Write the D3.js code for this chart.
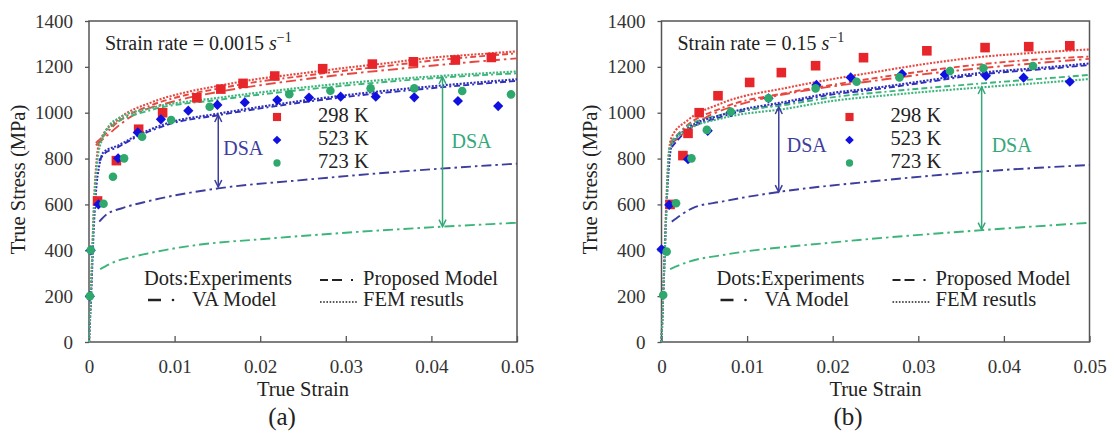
<!DOCTYPE html>
<html><head><meta charset="utf-8">
<script src="https://cdn.jsdelivr.net/npm/d3@7"></script>
<style>
body{margin:0;background:#fff;}
svg text{font-family:"Liberation Serif","Times New Roman",serif;fill:#222;}
</style></head>
<body>
<svg id="chart" width="1114" height="436"></svg>
<script>
// ---------- data ----------
const strainTicks = [0, 0.01, 0.02, 0.03, 0.04, 0.05];
const stressTicks = [0, 200, 400, 600, 800, 1000, 1200, 1400];
const tempLabels = ["298 K", "523 K", "723 K"];
const panelLabels = ["(a)", "(b)"];
const rateLabels = ["0.0015", "0.15"];

// Panel (a) experiments [strain, stress]
const expA298 = [[0.001,615],[0.0032,791],[0.0058,928],[0.0086,1000],[0.0126,1065],[0.0154,1103],[0.018,1128],[0.0217,1160],[0.0273,1192],[0.0331,1212],[0.0379,1222],[0.0428,1230],[0.047,1241]];
const expA523 = [[0.0001,200],[0.0002,400],[0.0011,600],[0.0034,801],[0.0057,914],[0.0084,971],[0.0116,1009],[0.015,1034],[0.0182,1045],[0.022,1055],[0.0257,1066],[0.0294,1070],[0.0335,1070],[0.038,1067],[0.0431,1051],[0.0478,1029]];
const expA723 = [[0.0001,200],[0.0002,400],[0.0017,603],[0.0028,721],[0.0041,801],[0.0062,895],[0.0096,968],[0.0141,1026],[0.0234,1081],[0.0282,1096],[0.0329,1106],[0.038,1106],[0.0436,1095],[0.0493,1080]];

// Panel (b) experiments
const expB298 = [[0.001,600],[0.0025,813],[0.0031,910],[0.0044,1000],[0.0066,1074],[0.0103,1132],[0.014,1175],[0.018,1205],[0.0236,1240],[0.031,1270],[0.0378,1284],[0.0429,1288],[0.0477,1292]];
const expB523 = [[0.0,404],[0.0009,598],[0.0031,797],[0.0054,921],[0.0081,1002],[0.0125,1063],[0.0181,1121],[0.0221,1154],[0.0281,1169],[0.0331,1167],[0.0379,1161],[0.0423,1153],[0.0477,1135]];
const expB723 = [[0.0002,205],[0.0006,394],[0.0017,605],[0.0035,801],[0.0053,925],[0.0081,1004],[0.0125,1063],[0.018,1106],[0.0228,1135],[0.0278,1154],[0.0337,1182],[0.0376,1194],[0.0434,1204]];

// Panel (a) model curves
const femA298 = [[0,0],[0.0003,300],[0.0006,620],[0.0009,800],[0.0013,880],[0.0034,970],[0.0073,1045],[0.0112,1088],[0.0151,1117],[0.019,1143],[0.0245,1170],[0.03,1196],[0.035,1217],[0.04,1240],[0.045,1254],[0.05,1268]];
const propA298 = [[0.0008,868],[0.0013,884],[0.0034,960],[0.0073,1033],[0.0112,1076],[0.0151,1105],[0.019,1131],[0.0245,1158],[0.03,1184],[0.035,1205],[0.04,1227],[0.045,1244],[0.05,1259]];
const vaA298 = [[0.0008,858],[0.0013,874],[0.005,985],[0.01,1050],[0.015,1090],[0.02,1120],[0.025,1145],[0.03,1168],[0.035,1187],[0.04,1205],[0.045,1222],[0.05,1237]];
const femA523 = [[0,0],[0.0003,250],[0.0005,450],[0.0008,650],[0.0012,770],[0.0017,828],[0.0034,857],[0.0054,897],[0.0093,956],[0.0151,996],[0.0245,1050],[0.0324,1087],[0.04,1115],[0.05,1146]];
const propA523 = [[0.0012,790],[0.0017,818],[0.0034,850],[0.0054,891],[0.0093,949],[0.0151,989],[0.0245,1043],[0.0324,1079],[0.04,1107],[0.05,1139]];
const vaA523 = [[0.0012,525],[0.002,555],[0.004,585],[0.007,615],[0.0151,670],[0.0245,705],[0.0363,743],[0.05,778]];
const femA723 = [[0,0],[0.0003,300],[0.0006,600],[0.001,800],[0.0015,880],[0.0025,950],[0.0034,975],[0.0073,1021],[0.0151,1065],[0.0245,1108],[0.0324,1137],[0.04,1158],[0.05,1180]];
const propA723 = [[0.001,858],[0.0025,938],[0.0073,1012],[0.0151,1056],[0.0245,1098],[0.0324,1127],[0.04,1150],[0.05,1172]];
const vaA723 = [[0.0013,318],[0.003,350],[0.0052,372],[0.008,395],[0.013,425],[0.02,448],[0.0317,481],[0.0413,503],[0.05,520]];

// Panel (b) model curves
const femB298 = [[0,0],[0.0003,320],[0.0006,650],[0.0009,840],[0.0012,895],[0.0031,968],[0.007,1041],[0.0148,1110],[0.0197,1145],[0.0244,1174],[0.03,1208],[0.0375,1244],[0.043,1260],[0.05,1276]];
const propB298 = [[0.001,870],[0.003,945],[0.007,1020],[0.0148,1088],[0.0197,1120],[0.0244,1148],[0.03,1178],[0.0375,1212],[0.043,1230],[0.05,1245]];
const vaB298 = [[0.001,860],[0.005,975],[0.01,1045],[0.015,1085],[0.02,1115],[0.025,1140],[0.03,1165],[0.0375,1195],[0.045,1220],[0.05,1235]];
const femB523 = [[0,0],[0.0003,300],[0.0006,600],[0.0009,780],[0.0012,860],[0.003,930],[0.007,990],[0.0148,1050],[0.0197,1085],[0.0242,1105],[0.03,1135],[0.0375,1175],[0.045,1198],[0.05,1215]];
const propB523 = [[0.0012,850],[0.003,922],[0.007,982],[0.0148,1043],[0.0197,1078],[0.0242,1098],[0.03,1128],[0.0375,1168],[0.045,1191],[0.05,1208]];
const vaB523 = [[0.0012,525],[0.0037,585],[0.007,612],[0.0138,655],[0.0242,699],[0.0372,743],[0.05,772]];
const femB723 = [[0,0],[0.0003,300],[0.0006,600],[0.0008,800],[0.001,852],[0.003,925],[0.007,975],[0.0148,1019],[0.0197,1050],[0.0275,1080],[0.0375,1111],[0.045,1132],[0.05,1147]];
const propB723 = [[0.001,868],[0.003,940],[0.007,992],[0.0148,1036],[0.0197,1066],[0.0275,1096],[0.0375,1128],[0.045,1150],[0.05,1165]];
const vaB723 = [[0.001,318],[0.003,348],[0.0076,382],[0.0197,433],[0.0375,488],[0.05,520]];

// DSA arrows: [strain, upper stress, lower stress]
const dsaA = [[0.0151, 990, 676], [0.0413, 1156, 503]];
const dsaB = [[0.0137, 1025, 654], [0.0374, 1112, 490]];

// ---------- drawing ----------
const svg = d3.select("#chart");
const colors = { r: "#e6262b", b: "#1010e0", g: "#2ea86c" };
const lineColors = { r: "#e8473f", b: "#2f2fb8", g: "#3cb57a" };
const vaBlue = "#3d3d9e";
const plotTop = 21, plotBottom = 342;
const dashProp = "6,3,6,3,2,3";
const dashVA = "10,4,2.5,4";
const dashFEM = "2,1.5";
const serif = '"Liberation Serif","Times New Roman",serif';

const panels = [
  { left: 89, right: 517, label: panelLabels[0], rate: rateLabels[0], capX: 282,
    exp: [expA298, expA523, expA723], fem: [femA298, femA523, femA723], prop: [propA298, propA523, propA723], va: [vaA298, vaA523, vaA723],
    dsa: dsaA, dsaText: [[5, 150], [9, 143]] },
  { left: 661.5, right: 1089.5, label: panelLabels[1], rate: rateLabels[1], capX: 848,
    exp: [expB298, expB523, expB723], fem: [femB298, femB523, femB723], prop: [propB298, propB523, propB723], va: [vaB298, vaB523, vaB723],
    dsa: dsaB, dsaText: [[8, 147], [10, 147]] }
];

const markerPath = [
  d3.symbol().type(d3.symbolSquare).size(92),
  d3.symbol().type(d3.symbolSquare).size(52),
  d3.symbol().type(d3.symbolCircle).size(58)
];
const markerRot = [0, 45, 0];

panels.forEach(p => {
  const x = d3.scaleLinear().domain([0, 0.05]).range([p.left, p.right]);
  const y = d3.scaleLinear().domain([0, 1400]).range([plotBottom, plotTop]);
  const g = svg.append("g");

  // frame
  g.append("rect").attr("x", p.left).attr("y", plotTop).attr("width", p.right - p.left).attr("height", plotBottom - plotTop)
    .attr("fill", "none").attr("stroke", "#555").attr("stroke-width", 1.5);

  // axes
  const xAxis = d3.axisBottom(x).tickValues(strainTicks).tickSize(-6).tickPadding(18)
    .tickFormat(d => d === 0 ? "0" : d3.format(".2f")(d));
  const xg = g.append("g").attr("transform", `translate(0,${plotBottom})`).call(xAxis);
  xg.attr("font-family", null).attr("font-size", null);
  xg.select(".domain").remove();
  xg.selectAll("line").attr("stroke", "#555").attr("stroke-width", 1.3);
  xg.selectAll("text").style("font-size", "19px").style("fill", "#333").style("font-family", serif);

  const yAxis = d3.axisLeft(y).tickValues(stressTicks).tickSize(4).tickPadding(12).tickFormat(d => String(d));
  const yg = g.append("g").attr("transform", `translate(${p.left},0)`).call(yAxis);
  yg.attr("font-family", null).attr("font-size", null);
  yg.select(".domain").remove();
  yg.selectAll("line").attr("stroke", "#555").attr("stroke-width", 1.3);
  yg.selectAll("text").style("font-size", "19px").style("fill", "#333").style("font-family", serif);

  // axis titles
  g.append("text").attr("x", (p.left + p.right) / 2).attr("y", 396).attr("text-anchor", "middle")
    .attr("font-size", 20.5).text("True Strain");
  g.append("text").attr("transform", `translate(${p.left - 69},${(plotTop + plotBottom) / 2 - 2}) rotate(-90)`)
    .attr("dominant-baseline", "middle").attr("text-anchor", "middle").attr("font-size", 20.5).text("True Stress (MPa)");
  g.append("text").attr("x", p.capX).attr("y", 425).attr("text-anchor", "middle").attr("font-size", 25).text(p.label);

  // strain rate label
  const sr = g.append("text").attr("x", p.left + 16).attr("y", 50).attr("font-size", 20);
  sr.append("tspan").text("Strain rate = " + p.rate + " ");
  sr.append("tspan").attr("font-style", "italic").text("s");
  sr.append("tspan").attr("dy", -8).attr("font-size", 14).text("−1");

  const line = d3.line().x(d => x(d[0])).y(d => y(d[1])).curve(d3.curveMonotoneX);
  const keys = ["r", "b", "g"];

  // VA model curves
  p.va.forEach((arr, i) => {
    g.append("path").datum(arr).attr("d", line).attr("fill", "none")
      .attr("stroke", keys[i] === "b" ? vaBlue : lineColors[keys[i]]).attr("stroke-width", 1.9)
      .attr("stroke-dasharray", dashVA);
  });
  // proposed model curves
  p.prop.forEach((arr, i) => {
    g.append("path").datum(arr).attr("d", line).attr("fill", "none")
      .attr("stroke", lineColors[keys[i]]).attr("stroke-width", 1.9).attr("stroke-dasharray", dashProp);
  });
  // FEM curves
  p.fem.forEach((arr, i) => {
    g.append("path").datum(arr).attr("d", line).attr("fill", "none")
      .attr("stroke", lineColors[keys[i]]).attr("stroke-width", 2.1).attr("stroke-dasharray", dashFEM);
  });

  // DSA arrows
  const dsaColors = [vaBlue, "#35a87a"];
  p.dsa.forEach((d, i) => {
    const ax = x(d[0]), y1 = y(d[1]), y2 = y(d[2]);
    const c = dsaColors[i];
    g.append("line").attr("x1", ax).attr("x2", ax).attr("y1", y1).attr("y2", y2).attr("stroke", c).attr("stroke-width", 1.5);
    g.append("path").attr("d", `M${ax - 3.5},${y1 + 7}L${ax},${y1}L${ax + 3.5},${y1 + 7}`).attr("fill", "none").attr("stroke", c).attr("stroke-width", 1.5);
    g.append("path").attr("d", `M${ax - 3.5},${y2 - 7}L${ax},${y2}L${ax + 3.5},${y2 - 7}`).attr("fill", "none").attr("stroke", c).attr("stroke-width", 1.5);
    g.append("text").attr("x", ax + p.dsaText[i][0]).attr("y", p.dsaText[i][1]).attr("dominant-baseline", "middle")
      .attr("font-size", 20).style("fill", c).text("DSA");
  });

  // experimental markers
  p.exp.forEach((arr, i) => {
    g.selectAll(null).data(arr).enter().append("path")
      .attr("d", markerPath[i])
      .attr("transform", d => `translate(${x(d[0])},${y(d[1])}) rotate(${markerRot[i]})`)
      .attr("fill", colors[keys[i]]);
  });

  // temperature legend
  tempLabels.forEach((t, i) => {
    const ly = 117 + i * 23;
    g.append("path").attr("d", markerPath[i])
      .attr("transform", `translate(${p.left + 188},${ly}) rotate(${markerRot[i]}) scale(0.85)`).attr("fill", colors[keys[i]]);
    g.append("text").attr("x", p.left + 229).attr("y", ly).attr("dominant-baseline", "middle").attr("font-size", 20.5).text(t);
  });

  // bottom legend
  g.append("text").attr("x", p.left + 55).attr("y", 285).attr("font-size", 20.5).text("Dots:Experiments");
  g.append("line").attr("x1", p.left + 59).attr("x2", p.left + 72).attr("y1", 300).attr("y2", 300).attr("stroke", "#222").attr("stroke-width", 2.5);
  g.append("circle").attr("cx", p.left + 84).attr("cy", 300).attr("r", 1.3).attr("fill", "#222");
  g.append("text").attr("x", p.left + 103).attr("y", 306).attr("font-size", 20.5).text("VA Model");
  g.append("line").attr("x1", p.left + 231).attr("x2", p.left + 266).attr("y1", 280).attr("y2", 280)
    .attr("stroke", "#222").attr("stroke-width", 2).attr("stroke-dasharray", "8,4,10,9,2,20");
  g.append("text").attr("x", p.left + 274).attr("y", 285).attr("font-size", 20.5).text("Proposed Model");
  g.append("line").attr("x1", p.left + 231).attr("x2", p.left + 268).attr("y1", 302).attr("y2", 302)
    .attr("stroke", "#222").attr("stroke-width", 1.7).attr("stroke-dasharray", "1.6,1.6");
  g.append("text").attr("x", p.left + 274).attr("y", 306).attr("font-size", 20.5).text("FEM resutls");
});
</script>
</body></html>
